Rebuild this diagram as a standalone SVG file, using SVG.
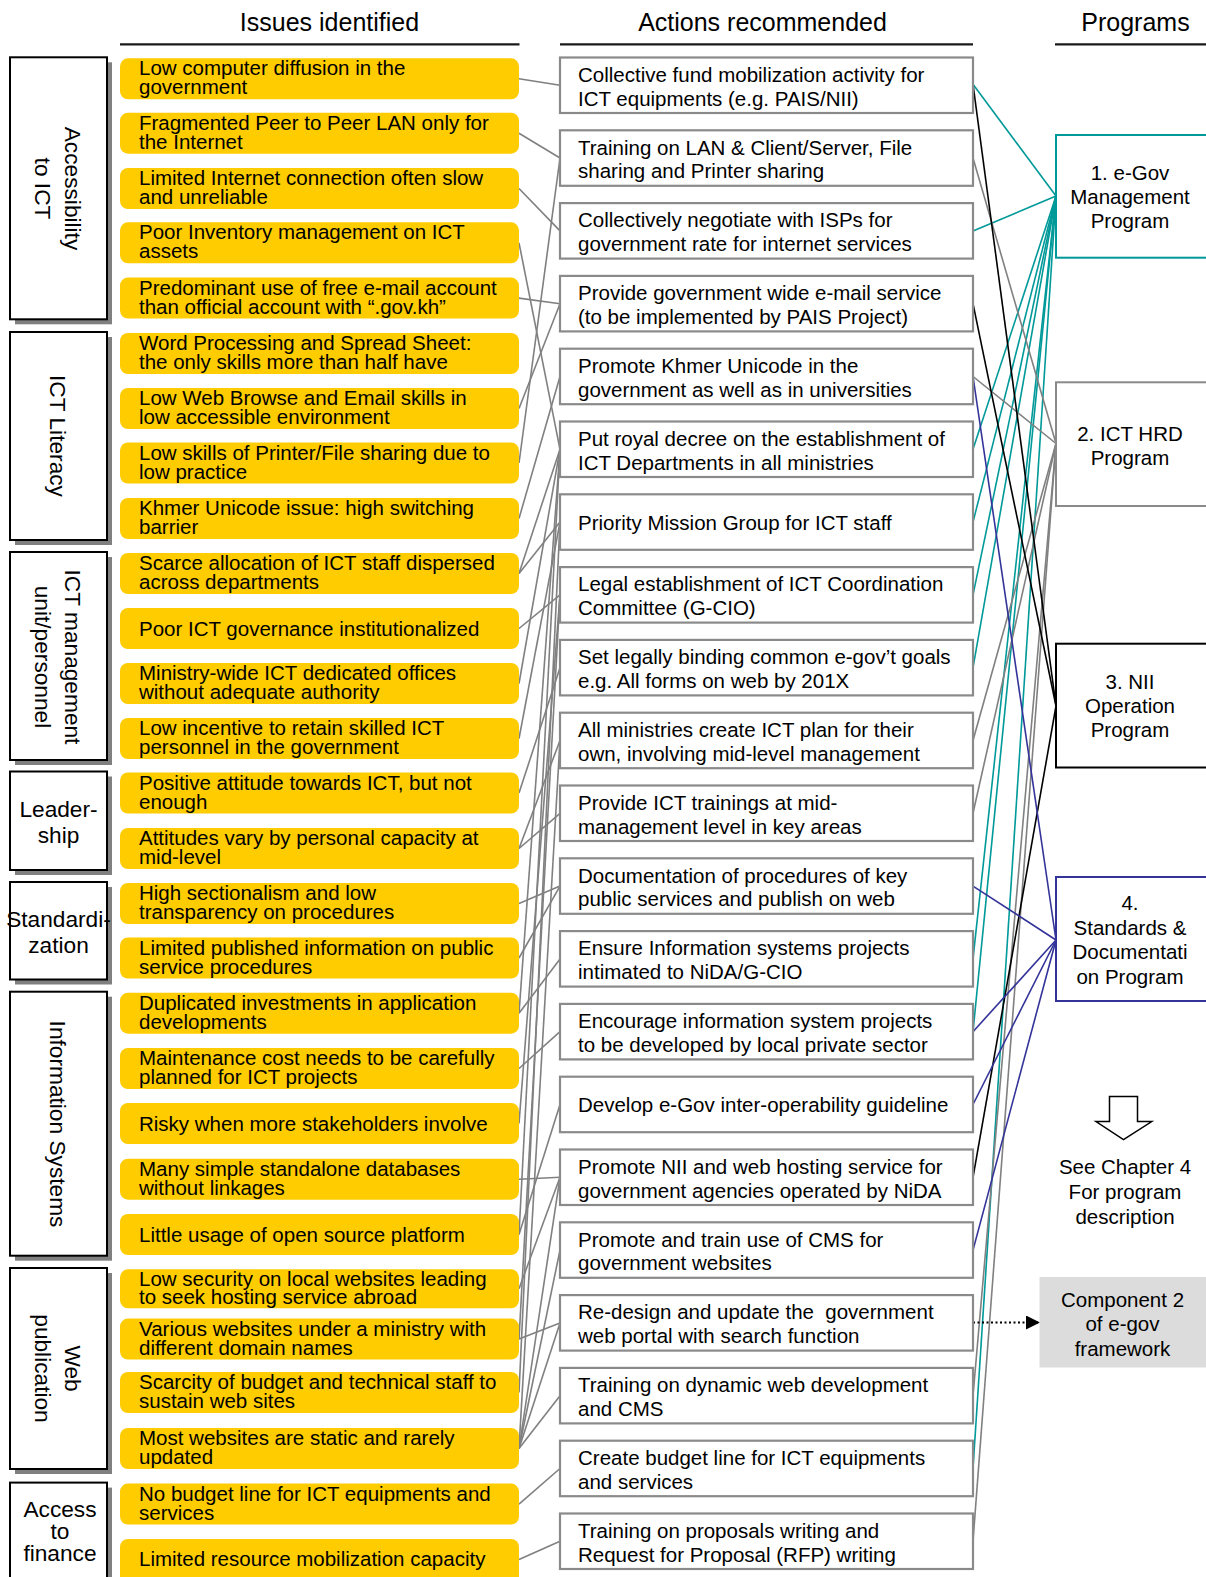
<svg xmlns="http://www.w3.org/2000/svg" width="1206" height="1577" viewBox="0 0 1206 1577">
<style>
  text { font-family: "Liberation Sans", Arial, sans-serif; fill: #000; }
  .t { font-size: 20.5px; }
  .h { font-size: 25px; text-anchor: middle; }
  .k { font-size: 22.7px; text-anchor: middle; }
  .m { font-size: 20.5px; text-anchor: middle; }
  .iss { fill: #FFCC00; }
  .act { fill: #fff; stroke: #8a8a8a; stroke-width: 2.2; }
  .cat { fill: #fff; stroke: #000; stroke-width: 2; }
  .sh { fill: #808080; }
  .rule { stroke: #1a1a1a; stroke-width: 2.2; }
  .lg { stroke: #808080; stroke-width: 1.6; fill: none; }
  .lt { stroke: #009999; stroke-width: 1.6; fill: none; }
  .lk { stroke: #000; stroke-width: 1.6; fill: none; }
  .lb { stroke: #333399; stroke-width: 1.6; fill: none; }
</style>
<defs>
  <marker id="tri" viewBox="0 0 14 14" refX="13" refY="7" markerWidth="14" markerHeight="14" markerUnits="userSpaceOnUse" orient="auto">
    <path d="M0,0 L14,7 L0,14 Z" fill="#000"/>
  </marker>
</defs>
<rect width="1206" height="1577" fill="#fff"/>

<!-- column headings -->
<g id="headings">
  <text class="h" x="329.5" y="31">Issues identified</text>
  <text class="h" x="762.5" y="31">Actions recommended</text>
  <text class="h" x="1135.5" y="31">Programs</text>
  <line class="rule" x1="120" y1="44.3" x2="519.5" y2="44.3"/>
  <line class="rule" x1="560" y1="44.3" x2="973" y2="44.3"/>
  <line class="rule" x1="1055" y1="44.3" x2="1206" y2="44.3"/>
</g>

<!-- connectors -->
<g id="connectors">
  <!-- issues to actions -->
  <line class="lg" x1="519" y1="78.8" x2="560" y2="85.3"/>
  <line class="lg" x1="519" y1="133.2" x2="560" y2="158"/>
  <line class="lg" x1="519" y1="188.5" x2="560" y2="230.9"/>
  <line class="lg" x1="519" y1="242.8" x2="560" y2="449.3"/>
  <line class="lg" x1="519" y1="298.1" x2="560" y2="303.7"/>
  <line class="lg" x1="519" y1="408.5" x2="560" y2="303.7"/>
  <line class="lg" x1="519" y1="463" x2="560" y2="158"/>
  <line class="lg" x1="519" y1="518.5" x2="560" y2="376.5"/>
  <line class="lg" x1="519" y1="573.5" x2="560" y2="449.3"/>
  <line class="lg" x1="519" y1="573.5" x2="560" y2="522.1"/>
  <line class="lg" x1="519" y1="628.5" x2="560" y2="594.9"/>
  <line class="lg" x1="519" y1="683.5" x2="560" y2="449.3"/>
  <line class="lg" x1="519" y1="738.5" x2="560" y2="522.1"/>
  <line class="lg" x1="519" y1="793" x2="560" y2="667.7"/>
  <line class="lg" x1="519" y1="848.5" x2="560" y2="740.5"/>
  <line class="lg" x1="519" y1="848.5" x2="560" y2="813.3"/>
  <line class="lg" x1="519" y1="903.5" x2="560" y2="886.1"/>
  <line class="lg" x1="519" y1="958" x2="560" y2="886.1"/>
  <line class="lg" x1="519" y1="1013.2" x2="560" y2="958.9"/>
  <line class="lg" x1="519" y1="1013.2" x2="560" y2="449.3"/>
  <line class="lg" x1="519" y1="1068.5" x2="560" y2="1031.7"/>
  <line class="lg" x1="519" y1="1123.5" x2="560" y2="594.9"/>
  <line class="lg" x1="519" y1="1179.2" x2="560" y2="1177.3"/>
  <line class="lg" x1="519" y1="1234.5" x2="560" y2="1104.5"/>
  <line class="lg" x1="519" y1="1234.5" x2="560" y2="449.3"/>
  <line class="lg" x1="519" y1="1288.8" x2="560" y2="1177.3"/>
  <line class="lg" x1="519" y1="1339.1" x2="560" y2="1322.9"/>
  <line class="lg" x1="519" y1="1339.1" x2="560" y2="594.9"/>
  <line class="lg" x1="519" y1="1392.5" x2="560" y2="522.1"/>
  <line class="lg" x1="519" y1="1448.5" x2="560" y2="1177.3"/>
  <line class="lg" x1="519" y1="1448.5" x2="560" y2="1250.1"/>
  <line class="lg" x1="519" y1="1448.5" x2="560" y2="1322.9"/>
  <line class="lg" x1="519" y1="1448.5" x2="560" y2="1395.7"/>
  <line class="lg" x1="519" y1="1448.5" x2="560" y2="740.5"/>
  <line class="lg" x1="519" y1="1504.1" x2="560" y2="1468.5"/>
  <line class="lg" x1="519" y1="1559.5" x2="560" y2="1541.3"/>

  <!-- actions to program 1 -->
  <line class="lt" x1="973" y1="84.3" x2="1056" y2="196"/>
  <line class="lt" x1="973" y1="231" x2="1056" y2="196"/>
  <line class="lt" x1="973" y1="449.3" x2="1056" y2="196"/>
  <line class="lt" x1="973" y1="522.1" x2="1056" y2="196"/>
  <line class="lt" x1="973" y1="594.9" x2="1056" y2="196"/>
  <line class="lt" x1="973" y1="667.7" x2="1056" y2="196"/>
  <line class="lt" x1="973" y1="958.9" x2="1056" y2="196"/>
  <line class="lt" x1="973" y1="1031.7" x2="1056" y2="196"/>
  <line class="lt" x1="973" y1="1468.5" x2="1056" y2="196"/>
  <!-- actions to program 2 -->
  <line class="lg" x1="973" y1="158" x2="1056" y2="443.5"/>
  <line class="lg" x1="973" y1="376.5" x2="1056" y2="443.5"/>
  <line class="lg" x1="973" y1="740.5" x2="1056" y2="443.5"/>
  <line class="lg" x1="973" y1="813.3" x2="1056" y2="443.5"/>
  <line class="lg" x1="973" y1="1395.7" x2="1056" y2="443.5"/>
  <line class="lg" x1="973" y1="1541.3" x2="1056" y2="443.5"/>
  <!-- actions to program 3 -->
  <line class="lk" x1="973" y1="84.3" x2="1056" y2="706"/>
  <line class="lk" x1="973" y1="303.7" x2="1056" y2="706"/>
  <line class="lk" x1="973" y1="1177.3" x2="1056" y2="706"/>
  <!-- actions to program 4 -->
  <line class="lb" x1="973" y1="376.5" x2="1056" y2="940"/>
  <line class="lb" x1="973" y1="886.1" x2="1056" y2="940"/>
  <line class="lb" x1="973" y1="1031.7" x2="1056" y2="940"/>
  <line class="lb" x1="973" y1="1104.5" x2="1056" y2="940"/>
  <line class="lb" x1="973" y1="1250.1" x2="1056" y2="940"/>
  <!-- portal action to framework component -->
  <line x1="973" y1="1322.5" x2="1039" y2="1322.5" stroke="#000" stroke-width="2" stroke-dasharray="2 2.5" marker-end="url(#tri)"/>
</g>

<!-- issue categories -->
<g id="cat-accessibility">
  <rect class="sh" x="15" y="62.3" width="97" height="262"/>
  <rect class="cat" x="10" y="57.3" width="97" height="262"/>
  <text class="k" transform="translate(65,188.5) rotate(90)">Accessibility</text>
  <text class="k" transform="translate(35,188.5) rotate(90)">to ICT</text>
</g>
<g id="cat-literacy">
  <rect class="sh" x="15" y="337" width="97" height="208"/>
  <rect class="cat" x="10" y="332" width="97" height="208"/>
  <text class="k" transform="translate(50,436) rotate(90)">ICT Literacy</text>
</g>
<g id="cat-management">
  <rect class="sh" x="15" y="557" width="97" height="208"/>
  <rect class="cat" x="10" y="552" width="97" height="208"/>
  <text class="k" transform="translate(65,657) rotate(90)">ICT management</text>
  <text class="k" transform="translate(35,657) rotate(90)">unit/personnel</text>
</g>
<g id="cat-leadership">
  <rect class="sh" x="15" y="776.5" width="97" height="98.5"/>
  <rect class="cat" x="10" y="771.5" width="97" height="98.5"/>
  <text class="k" x="58.5" y="817">Leader-</text>
  <text class="k" x="58.5" y="843">ship</text>
</g>
<g id="cat-standardization">
  <rect class="sh" x="15" y="887" width="97" height="97.5"/>
  <rect class="cat" x="10" y="882" width="97" height="97.5"/>
  <text class="k" x="58.5" y="927">Standardi-</text>
  <text class="k" x="58.5" y="953">zation</text>
</g>
<g id="cat-information-systems">
  <rect class="sh" x="15" y="996.7" width="97" height="264"/>
  <rect class="cat" x="10" y="991.7" width="97" height="264"/>
  <text class="k" transform="translate(50,1124) rotate(90)">Information Systems</text>
</g>
<g id="cat-web">
  <rect class="sh" x="15" y="1273" width="97" height="201"/>
  <rect class="cat" x="10" y="1268" width="97" height="201"/>
  <text class="k" transform="translate(65,1368.5) rotate(90)">Web</text>
  <text class="k" transform="translate(35,1368.5) rotate(90)">publication</text>
</g>
<g id="cat-finance">
  <rect class="sh" x="15" y="1487.6" width="97" height="110"/>
  <rect class="cat" x="10" y="1482.6" width="97" height="110"/>
  <text class="k" x="60" y="1516.5">Access</text>
  <text class="k" x="60" y="1538.5">to</text>
  <text class="k" x="60" y="1561">finance</text>
</g>

<!-- issues identified -->
<g id="issue-0"><rect class="iss" x="120" y="58.3" width="399" height="41" rx="8"/><text class="t" x="139" y="75.3">Low computer diffusion in the</text><text class="t" x="139" y="94.3">government</text></g>
<g id="issue-1"><rect class="iss" x="120" y="112.7" width="399" height="41" rx="8"/><text class="t" x="139" y="129.7">Fragmented Peer to Peer LAN only for</text><text class="t" x="139" y="148.7">the Internet</text></g>
<g id="issue-2"><rect class="iss" x="120" y="168" width="399" height="41" rx="8"/><text class="t" x="139" y="185">Limited Internet connection often slow</text><text class="t" x="139" y="204">and unreliable</text></g>
<g id="issue-3"><rect class="iss" x="120" y="222.3" width="399" height="41" rx="8"/><text class="t" x="139" y="239.3">Poor Inventory management on ICT</text><text class="t" x="139" y="258.3">assets</text></g>
<g id="issue-4"><rect class="iss" x="120" y="277.6" width="399" height="41" rx="8"/><text class="t" x="139" y="294.6">Predominant use of free e-mail account</text><text class="t" x="139" y="313.6">than official account with “.gov.kh”</text></g>
<g id="issue-5"><rect class="iss" x="120" y="333" width="399" height="41" rx="8"/><text class="t" x="139" y="350">Word Processing and Spread Sheet:</text><text class="t" x="139" y="369">the only skills more than half have</text></g>
<g id="issue-6"><rect class="iss" x="120" y="388" width="399" height="41" rx="8"/><text class="t" x="139" y="405">Low Web Browse and Email skills in</text><text class="t" x="139" y="424">low accessible environment</text></g>
<g id="issue-7"><rect class="iss" x="120" y="442.5" width="399" height="41" rx="8"/><text class="t" x="139" y="459.5">Low skills of Printer/File sharing due to</text><text class="t" x="139" y="478.5">low practice</text></g>
<g id="issue-8"><rect class="iss" x="120" y="498" width="399" height="41" rx="8"/><text class="t" x="139" y="515">Khmer Unicode issue: high switching</text><text class="t" x="139" y="534">barrier</text></g>
<g id="issue-9"><rect class="iss" x="120" y="553" width="399" height="41" rx="8"/><text class="t" x="139" y="570">Scarce allocation of ICT staff dispersed</text><text class="t" x="139" y="589">across departments</text></g>
<g id="issue-10"><rect class="iss" x="120" y="608" width="399" height="41" rx="8"/><text class="t" x="139" y="635.5">Poor ICT governance institutionalized</text></g>
<g id="issue-11"><rect class="iss" x="120" y="663" width="399" height="41" rx="8"/><text class="t" x="139" y="680">Ministry-wide ICT dedicated offices</text><text class="t" x="139" y="699">without adequate authority</text></g>
<g id="issue-12"><rect class="iss" x="120" y="718" width="399" height="41" rx="8"/><text class="t" x="139" y="735">Low incentive to retain skilled ICT</text><text class="t" x="139" y="754">personnel in the government</text></g>
<g id="issue-13"><rect class="iss" x="120" y="772.5" width="399" height="41" rx="8"/><text class="t" x="139" y="789.5">Positive attitude towards ICT, but not</text><text class="t" x="139" y="808.5">enough</text></g>
<g id="issue-14"><rect class="iss" x="120" y="828" width="399" height="41" rx="8"/><text class="t" x="139" y="845">Attitudes vary by personal capacity at</text><text class="t" x="139" y="864">mid-level</text></g>
<g id="issue-15"><rect class="iss" x="120" y="883" width="399" height="41" rx="8"/><text class="t" x="139" y="900">High sectionalism and low</text><text class="t" x="139" y="919">transparency on procedures</text></g>
<g id="issue-16"><rect class="iss" x="120" y="937.5" width="399" height="41" rx="8"/><text class="t" x="139" y="954.5">Limited published information on public</text><text class="t" x="139" y="973.5">service procedures</text></g>
<g id="issue-17"><rect class="iss" x="120" y="992.7" width="399" height="41" rx="8"/><text class="t" x="139" y="1009.7">Duplicated investments in application</text><text class="t" x="139" y="1028.7">developments</text></g>
<g id="issue-18"><rect class="iss" x="120" y="1048" width="399" height="41" rx="8"/><text class="t" x="139" y="1065">Maintenance cost needs to be carefully</text><text class="t" x="139" y="1084">planned for ICT projects</text></g>
<g id="issue-19"><rect class="iss" x="120" y="1103" width="399" height="41" rx="8"/><text class="t" x="139" y="1130.5">Risky when more stakeholders involve</text></g>
<g id="issue-20"><rect class="iss" x="120" y="1158.7" width="399" height="41" rx="8"/><text class="t" x="139" y="1175.7">Many simple standalone databases</text><text class="t" x="139" y="1194.7">without linkages</text></g>
<g id="issue-21"><rect class="iss" x="120" y="1214" width="399" height="41" rx="8"/><text class="t" x="139" y="1241.5">Little usage of open source platform</text></g>
<g id="issue-22"><rect class="iss" x="120" y="1269.3" width="399" height="39" rx="8"/><text class="t" x="139" y="1285.8">Low security on local websites leading</text><text class="t" x="139" y="1304.3">to seek hosting service abroad</text></g>
<g id="issue-23"><rect class="iss" x="120" y="1318.6" width="399" height="41" rx="8"/><text class="t" x="139" y="1335.6">Various websites under a ministry with</text><text class="t" x="139" y="1354.6">different domain names</text></g>
<g id="issue-24"><rect class="iss" x="120" y="1372" width="399" height="41" rx="8"/><text class="t" x="139" y="1389">Scarcity of budget and technical staff to</text><text class="t" x="139" y="1408">sustain web sites</text></g>
<g id="issue-25"><rect class="iss" x="120" y="1428" width="399" height="41" rx="8"/><text class="t" x="139" y="1445">Most websites are static and rarely</text><text class="t" x="139" y="1464">updated</text></g>
<g id="issue-26"><rect class="iss" x="120" y="1483.6" width="399" height="41" rx="8"/><text class="t" x="139" y="1500.6">No budget line for ICT equipments and</text><text class="t" x="139" y="1519.6">services</text></g>
<g id="issue-27"><rect class="iss" x="120" y="1539" width="399" height="45" rx="8"/><text class="t" x="139" y="1566">Limited resource mobilization capacity</text></g>

<!-- actions recommended -->
<g id="action-0"><rect class="act" x="560" y="57.5" width="413" height="55.5"/><text class="t" x="578" y="81.8">Collective fund mobilization activity for</text><text class="t" x="578" y="105.5">ICT equipments (e.g. PAIS/NII)</text></g>
<g id="action-1"><rect class="act" x="560" y="130.3" width="413" height="55.5"/><text class="t" x="578" y="154.6">Training on LAN &amp; Client/Server, File</text><text class="t" x="578" y="178.3">sharing and Printer sharing</text></g>
<g id="action-2"><rect class="act" x="560" y="203.1" width="413" height="55.5"/><text class="t" x="578" y="227.4">Collectively negotiate with ISPs for</text><text class="t" x="578" y="251.1">government rate for internet services</text></g>
<g id="action-3"><rect class="act" x="560" y="275.9" width="413" height="55.5"/><text class="t" x="578" y="300.2">Provide government wide e-mail service</text><text class="t" x="578" y="323.9">(to be implemented by PAIS Project)</text></g>
<g id="action-4"><rect class="act" x="560" y="348.7" width="413" height="55.5"/><text class="t" x="578" y="373">Promote Khmer Unicode in the</text><text class="t" x="578" y="396.7">government as well as in universities</text></g>
<g id="action-5"><rect class="act" x="560" y="421.5" width="413" height="55.5"/><text class="t" x="578" y="445.8">Put royal decree on the establishment of</text><text class="t" x="578" y="469.5">ICT Departments in all ministries</text></g>
<g id="action-6"><rect class="act" x="560" y="494.3" width="413" height="55.5"/><text class="t" x="578" y="529.8">Priority Mission Group for ICT staff</text></g>
<g id="action-7"><rect class="act" x="560" y="567.1" width="413" height="55.5"/><text class="t" x="578" y="591.4">Legal establishment of ICT Coordination</text><text class="t" x="578" y="615.1">Committee (G-CIO)</text></g>
<g id="action-8"><rect class="act" x="560" y="639.9" width="413" height="55.5"/><text class="t" x="578" y="664.2">Set legally binding common e-gov’t goals</text><text class="t" x="578" y="687.9">e.g. All forms on web by 201X</text></g>
<g id="action-9"><rect class="act" x="560" y="712.7" width="413" height="55.5"/><text class="t" x="578" y="737">All ministries create ICT plan for their</text><text class="t" x="578" y="760.7">own, involving mid-level management</text></g>
<g id="action-10"><rect class="act" x="560" y="785.5" width="413" height="55.5"/><text class="t" x="578" y="809.8">Provide ICT trainings at mid-</text><text class="t" x="578" y="833.5">management level in key areas</text></g>
<g id="action-11"><rect class="act" x="560" y="858.3" width="413" height="55.5"/><text class="t" x="578" y="882.6">Documentation of procedures of key</text><text class="t" x="578" y="906.3">public services and publish on web</text></g>
<g id="action-12"><rect class="act" x="560" y="931.1" width="413" height="55.5"/><text class="t" x="578" y="955.4">Ensure Information systems projects</text><text class="t" x="578" y="979.1">intimated to NiDA/G-CIO</text></g>
<g id="action-13"><rect class="act" x="560" y="1003.9" width="413" height="55.5"/><text class="t" x="578" y="1028.2">Encourage information system projects</text><text class="t" x="578" y="1051.9">to be developed by local private sector</text></g>
<g id="action-14"><rect class="act" x="560" y="1076.7" width="413" height="55.5"/><text class="t" x="578" y="1112.2">Develop e-Gov inter-operability guideline</text></g>
<g id="action-15"><rect class="act" x="560" y="1149.5" width="413" height="55.5"/><text class="t" x="578" y="1173.8">Promote NII and web hosting service for</text><text class="t" x="578" y="1197.5">government agencies operated by NiDA</text></g>
<g id="action-16"><rect class="act" x="560" y="1222.3" width="413" height="55.5"/><text class="t" x="578" y="1246.6">Promote and train use of CMS for</text><text class="t" x="578" y="1270.3">government websites</text></g>
<g id="action-17"><rect class="act" x="560" y="1295.1" width="413" height="55.5"/><text class="t" x="578" y="1319.4" xml:space="preserve">Re-design and update the  government</text><text class="t" x="578" y="1343.1">web portal with search function</text></g>
<g id="action-18"><rect class="act" x="560" y="1367.9" width="413" height="55.5"/><text class="t" x="578" y="1392.2">Training on dynamic web development</text><text class="t" x="578" y="1415.9">and CMS</text></g>
<g id="action-19"><rect class="act" x="560" y="1440.7" width="413" height="55.5"/><text class="t" x="578" y="1465">Create budget line for ICT equipments</text><text class="t" x="578" y="1488.7">and services</text></g>
<g id="action-20"><rect class="act" x="560" y="1513.5" width="413" height="55.5"/><text class="t" x="578" y="1537.8">Training on proposals writing and</text><text class="t" x="578" y="1561.5">Request for Proposal (RFP) writing</text></g>

<!-- programs -->
<g id="program-1">
  <rect x="1056" y="135" width="170" height="122.7" fill="#fff" stroke="#009999" stroke-width="2"/>
  <text class="m" x="1130" y="180">1. e-Gov</text>
  <text class="m" x="1130" y="204">Management</text>
  <text class="m" x="1130" y="228">Program</text>
</g>
<g id="program-2">
  <rect x="1056" y="382.3" width="170" height="123.7" fill="#fff" stroke="#8a8a8a" stroke-width="2"/>
  <text class="m" x="1130" y="440.5">2. ICT HRD</text>
  <text class="m" x="1130" y="464.5">Program</text>
</g>
<g id="program-3">
  <rect x="1056" y="643.7" width="170" height="123.8" fill="#fff" stroke="#000" stroke-width="2"/>
  <text class="m" x="1130" y="689">3. NII</text>
  <text class="m" x="1130" y="713">Operation</text>
  <text class="m" x="1130" y="737">Program</text>
</g>
<g id="program-4">
  <rect x="1056" y="877" width="170" height="124" fill="#fff" stroke="#333399" stroke-width="2"/>
  <text class="m" x="1130" y="910">4.</text>
  <text class="m" x="1130" y="934.5">Standards &amp;</text>
  <text class="m" x="1130" y="959">Documentati</text>
  <text class="m" x="1130" y="983.5">on Program</text>
</g>

<!-- pointer to program description -->
<g id="chapter-note">
  <path d="M1109.5,1096.4 H1137.5 V1121.6 H1151.7 L1123.5,1139.6 L1096,1121.6 H1109.5 Z" fill="#fff" stroke="#000" stroke-width="1.5" stroke-linejoin="miter"/>
  <text class="m" x="1125" y="1174">See Chapter 4</text>
  <text class="m" x="1125" y="1199">For program</text>
  <text class="m" x="1125" y="1224">description</text>
</g>

<!-- framework component -->
<g id="component-2">
  <rect x="1039.5" y="1277" width="170" height="90.5" fill="#dcdcdc"/>
  <text class="m" x="1122.5" y="1306.5">Component 2</text>
  <text class="m" x="1122.5" y="1331">of e-gov</text>
  <text class="m" x="1122.5" y="1356">framework</text>
</g>
</svg>
